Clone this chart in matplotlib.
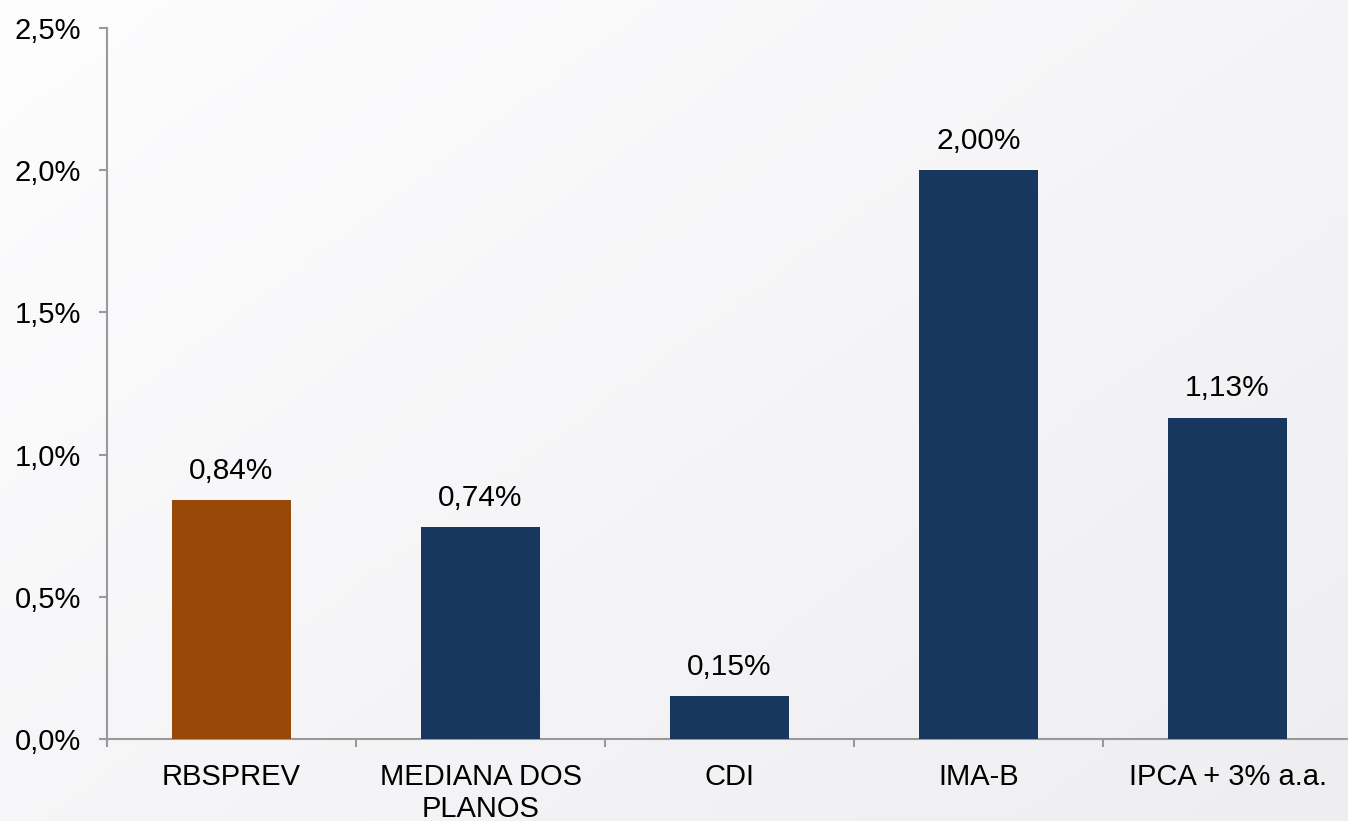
import numpy as np
import matplotlib
matplotlib.use('Agg')
import matplotlib.pyplot as plt
from matplotlib.ticker import FuncFormatter

categories = ['RBSPREV', 'MEDIANA DOS\nPLANOS', 'CDI', 'IMA-B', 'IPCA + 3% a.a.']
values = [0.84, 0.745, 0.15, 2.00, 1.13]
bar_colors = ['#984807', '#17375E', '#17375E', '#17375E', '#17375E']
yticks = [0.0, 0.5, 1.0, 1.5, 2.0, 2.5]

plt.rcParams['font.family'] = ['Liberation Sans', 'DejaVu Sans']

fig = plt.figure(figsize=(13.48, 8.21), dpi=100)

# soft gradient background, white at top-left to light grey at bottom-right
bg = fig.add_axes([0, 0, 1, 1], zorder=-10)
gx, gy = np.meshgrid(np.linspace(0, 1, 200), np.linspace(0, 1, 120))
grad = 0.55 * gx + 0.45 * gy
bg.imshow(grad, cmap=matplotlib.colors.LinearSegmentedColormap.from_list(
    'bg', ['#fdfdfe', '#eeeef1']), aspect='auto', extent=[0, 1, 0, 1], origin='upper')
bg.axis('off')

ax = fig.add_axes([0.0794, 0.0999, 0.9236, 0.866])
ax.patch.set_alpha(0)

x = np.arange(len(categories))
ax.bar(x, values, width=0.475, color=bar_colors, zorder=3)

for xi, v in zip(x, values):
    label = f'{round(v, 2):.2f}%'.replace('.', ',')
    ax.annotate(label, (xi, v), xytext=(0, 11),
                textcoords='offset points', ha='center', va='bottom', fontsize=21.5)

ax.set_xlim(-0.5, len(categories) - 0.5)
ax.set_ylim(0, 2.5)
ax.set_yticks(yticks)
ax.yaxis.set_major_formatter(FuncFormatter(lambda v, p: f'{v:.1f}%'.replace('.', ',')))

ax.set_xticks(x)
ax.set_xticklabels(categories, fontsize=21)
ax.set_xticks(np.arange(len(categories) + 1) - 0.5, minor=True)
ax.tick_params(axis='x', which='major', length=0, pad=17)
ax.tick_params(axis='x', which='minor', length=5.8, width=1.5, color='#999999', direction='out')
ax.tick_params(axis='y', length=5.8, width=1.5, color='#999999', labelsize=21, pad=13)

for side in ['top', 'right']:
    ax.spines[side].set_visible(False)
for side in ['left', 'bottom']:
    ax.spines[side].set_color('#999999')
    ax.spines[side].set_linewidth(1.5)

fig.savefig('out.png', dpi=100)
